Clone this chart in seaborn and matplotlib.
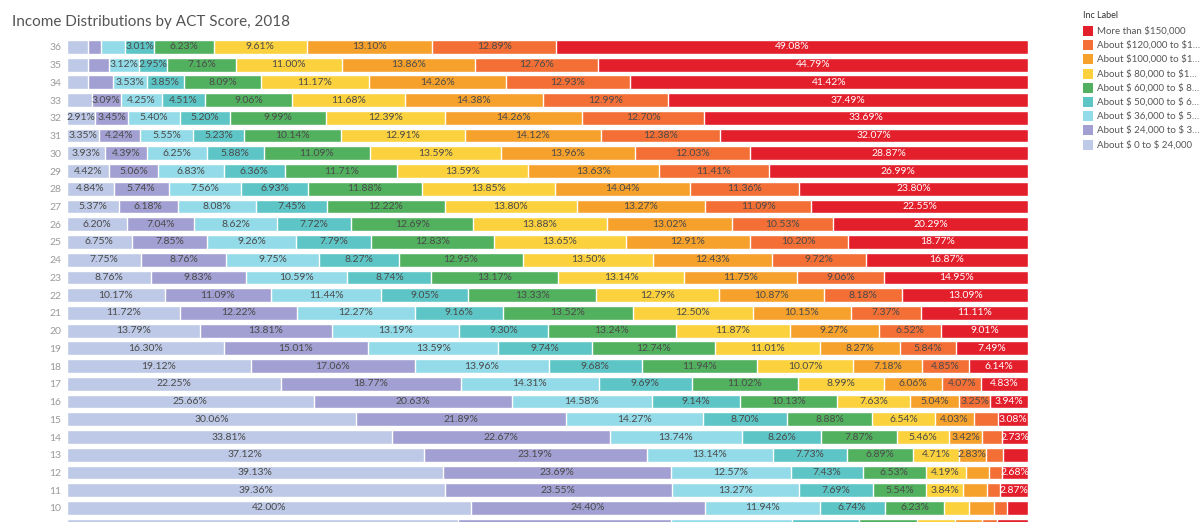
import numpy as np
import pandas as pd
import matplotlib
matplotlib.use("Agg")
import matplotlib.pyplot as plt
import seaborn as sns
from matplotlib.patches import Rectangle

# ACT score rows (top to bottom); the last one is only partly visible
scores = [36, 35, 34, 33, 32, 31, 30, 29, 28, 27, 26, 25, 24, 23, 22, 21, 20, 19, 18, 17, 16, 15, 14, 13, 12, 11, 10, 9]

# share of students (%) per income bracket, one list per bracket
inc_0_24 = [2.20, 2.20, 2.20, 2.55, 2.91, 3.35, 3.93, 4.42, 4.84, 5.37, 6.20, 6.75, 7.75, 8.76, 10.17, 11.72, 13.79, 16.30, 19.12, 22.25, 25.66, 30.06, 33.81, 37.12, 39.13, 39.36, 42.00, 40.70]
inc_24_36 = [1.38, 2.16, 2.55, 3.09, 3.45, 4.24, 4.39, 5.06, 5.74, 6.18, 7.04, 7.85, 8.76, 9.83, 11.09, 12.22, 13.81, 15.01, 17.06, 18.77, 20.63, 21.89, 22.67, 23.19, 23.69, 23.55, 24.40, 22.20]
inc_36_50 = [2.50, 3.12, 3.53, 4.25, 5.40, 5.55, 6.25, 6.83, 7.56, 8.08, 8.62, 9.26, 9.75, 10.59, 11.44, 12.27, 13.19, 13.59, 13.96, 14.31, 14.58, 14.27, 13.74, 13.14, 12.57, 13.27, 11.94, 12.50]
inc_50_60 = [3.01, 2.95, 3.85, 4.51, 5.20, 5.23, 5.88, 6.36, 6.93, 7.45, 7.72, 7.79, 8.27, 8.74, 9.05, 9.16, 9.30, 9.74, 9.68, 9.69, 9.14, 8.70, 8.26, 7.73, 7.43, 7.69, 6.74, 7.00]
inc_60_80 = [6.23, 7.16, 8.09, 9.06, 9.99, 10.14, 11.09, 11.71, 11.88, 12.22, 12.69, 12.83, 12.95, 13.17, 13.33, 13.52, 13.24, 12.74, 11.94, 11.02, 10.13, 8.88, 7.87, 6.89, 6.53, 5.54, 6.23, 6.00]
inc_80_100 = [9.61, 11.00, 11.17, 11.68, 12.39, 12.91, 13.59, 13.59, 13.85, 13.80, 13.88, 13.65, 13.50, 13.14, 12.79, 12.50, 11.87, 11.01, 10.07, 8.99, 7.63, 6.54, 5.46, 4.71, 4.19, 3.84, 2.55, 4.00]
inc_100_120 = [13.10, 13.86, 14.26, 14.38, 14.26, 14.12, 13.96, 13.63, 14.04, 13.27, 13.02, 12.91, 12.43, 11.75, 10.87, 10.15, 9.27, 8.27, 7.18, 6.06, 5.04, 4.03, 3.42, 2.83, 2.35, 2.50, 2.55, 2.80]
inc_120_150 = [12.89, 12.76, 12.93, 12.99, 12.70, 12.38, 12.03, 11.41, 11.36, 11.09, 10.53, 10.20, 9.72, 9.06, 8.18, 7.37, 6.52, 5.84, 4.85, 4.07, 3.25, 2.55, 2.04, 1.77, 1.43, 1.38, 1.40, 1.60]
inc_150_up = [49.08, 44.79, 41.42, 37.49, 33.69, 32.07, 28.87, 26.99, 23.80, 22.55, 20.29, 18.77, 16.87, 14.95, 13.09, 11.11, 9.01, 7.49, 6.14, 4.83, 3.94, 3.08, 2.73, 2.62, 2.68, 2.87, 2.19, 3.20]

bracket_labels = ["About \\$ 0 to \\$ 24,000", "About \\$ 24,000 to \\$ 3\u2026", "About \\$ 36,000 to \\$ 5\u2026",
                  "About \\$ 50,000 to \\$ 6\u2026", "About \\$ 60,000 to \\$ 8\u2026", "About \\$ 80,000 to \\$1\u2026",
                  "About \\$100,000 to \\$1\u2026", "About \\$120,000 to \\$1\u2026", "More than \\$150,000"]
bracket_colors = ["#bdc9e6", "#a29fd2", "#93dbe8", "#5ec5c6", "#52b15f", "#fbd13d",
                  "#f6a12c", "#f36f35", "#e31f2c"]

brackets = [inc_0_24, inc_24_36, inc_36_50, inc_50_60, inc_60_80, inc_80_100, inc_100_120, inc_120_150, inc_150_up]
cols = [f"b{i}" for i in range(len(brackets))]

df = pd.DataFrame({"score": [str(s) for s in scores]})
for c, vals in zip(cols, brackets):
    df[c] = vals
cum = df[cols].cumsum(axis=1)

sns.set_style("white")
plt.rcParams["font.family"] = ["Lato", "DejaVu Sans"]

W, H = 1200, 522
fig = plt.figure(figsize=(W / 100, H / 100), dpi=100)
ax = fig.add_axes([67 / W, 0, (1028 - 67) / W, (H - 38) / H])

# stacked bars: draw cumulative totals from the widest down
for c, col in reversed(list(zip(cols, bracket_colors))):
    sns.barplot(x=cum[c], y=df["score"], order=list(df["score"]), color=col,
                width=0.78, saturation=1, orient="h", errorbar=None, ax=ax)

y_bottom = 26.79
# segment labels (skip the row that is cut off at the bottom)
for i in range(len(df)):
    if i + 0.3 > y_bottom:
        continue
    left = 0
    for j, c in enumerate(cols):
        v = df.loc[i, c]
        if v >= 2.65:
            ax.text(left + v / 2, i, f"{v:.2f}%", ha="center", va="center", fontsize=7.5,
                    color="white" if j == len(cols) - 1 else "#4a4a4a", clip_on=True)
        left += v

ax.set_xlim(0, 100)
ax.set_ylim(y_bottom, -0.5)
ax.set_xlabel("")
ax.set_ylabel("")
ax.set_xticks([])
ax.tick_params(axis="y", length=0, labelsize=7.5, labelcolor="#9a9a9a", pad=4)
sns.despine(ax=ax, left=True, bottom=True)

fig.text(12 / W, 1 - 22 / H, "Income Distributions by ACT Score, 2018", fontsize=11,
         color="#555555", va="center", ha="left")

# legend (Tableau style, top right)
fig.text(1083 / W, 1 - 16 / H, "Inc Label", fontsize=6.5, color="#333333", va="center", ha="left")
for k, (lab, col) in enumerate(zip(bracket_labels[::-1], bracket_colors[::-1])):
    yc = 31 + k * 14.2
    fig.add_artist(Rectangle((1083 / W, 1 - (yc + 5) / H), 10 / W, 10 / H,
                             transform=fig.transFigure, facecolor=col, edgecolor="none"))
    fig.text(1097 / W, 1 - yc / H, lab, fontsize=7, color="#555555", va="center", ha="left")

fig.savefig("out.png", dpi=100, facecolor="white")
